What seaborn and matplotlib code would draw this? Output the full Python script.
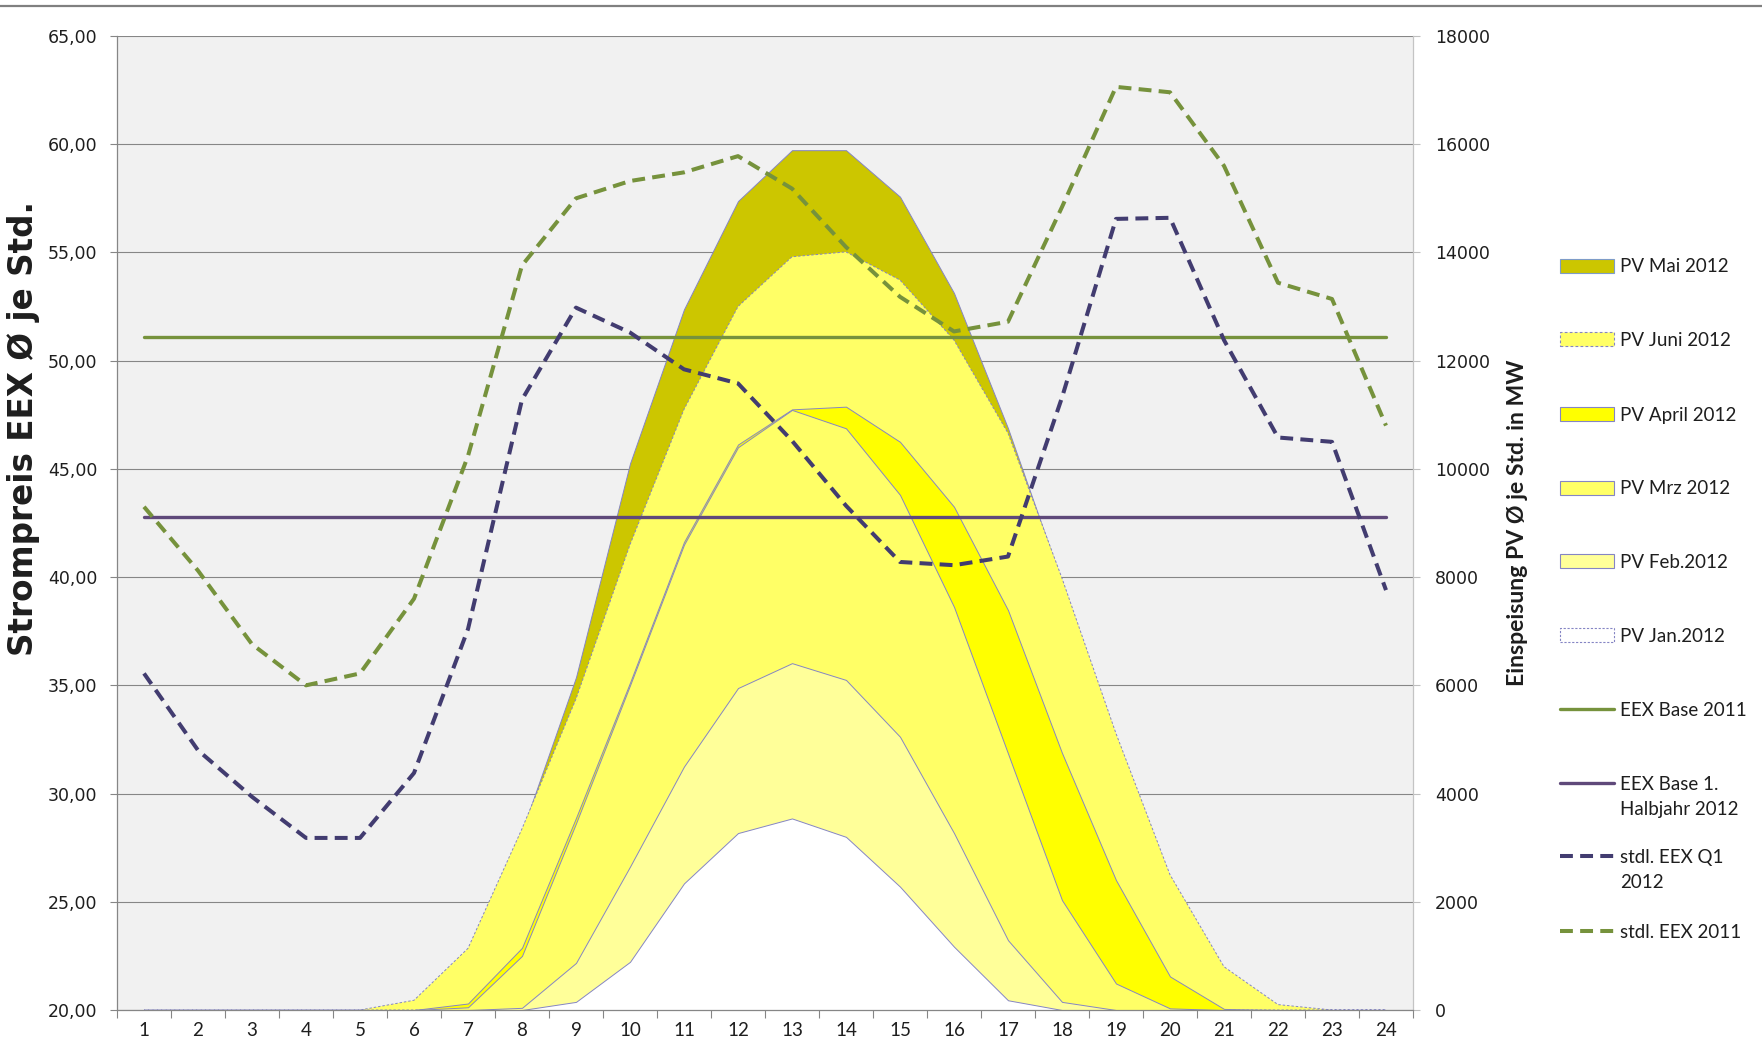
import numpy as np
import pandas as pd
import matplotlib
matplotlib.use("Agg")
import matplotlib.pyplot as plt
import seaborn as sns
from matplotlib.lines import Line2D
from matplotlib.patches import Patch
from matplotlib.ticker import FixedLocator, FuncFormatter

# ---- data -------------------------------------------------------------
hours = list(range(1, 25))

# average PV feed-in per hour of day, MW
pv_mai = [0, 0, 0, 0, 0, 100, 1000, 3300, 6150, 10100, 12950, 14950,
          15890, 15890, 15030, 13250, 10750, 7900, 5000, 2400, 700, 50, 0, 0]
pv_juni = [0, 0, 0, 0, 0, 180, 1140, 3350, 5750, 8600, 11100, 13000,
           13920, 14010, 13490, 12380, 10660, 7980, 5110, 2500, 800, 100, 0, 0]
pv_april = [0, 0, 0, 0, 0, 0, 120, 1150, 3550, 6050, 8650, 10450,
            11100, 11150, 10500, 9300, 7390, 4750, 2400, 620, 20, 0, 0, 0]
pv_mrz = [0, 0, 0, 0, 0, 0, 50, 1000, 3450, 6000, 8600, 10400,
          11090, 10750, 9520, 7450, 4740, 2030, 490, 30, 0, 0, 0, 0]
pv_feb = [0, 0, 0, 0, 0, 0, 0, 40, 870, 2650, 4500, 5950,
          6410, 6100, 5050, 3270, 1290, 150, 0, 0, 0, 0, 0, 0]
pv_jan = [0, 0, 0, 0, 0, 0, 0, 0, 150, 890, 2340, 3270,
          3540, 3200, 2280, 1170, 180, 0, 0, 0, 0, 0, 0, 0]

# hourly EEX prices, EUR/MWh
eex_2011 = [43.25, 40.3, 36.9, 35.0, 35.55, 39.0, 45.6, 54.4, 57.5, 58.3,
            58.7, 59.45, 57.95, 55.25, 52.95, 51.35, 51.8, 57.1, 62.65,
            62.4, 59.0, 53.6, 52.85, 47.0]
eex_q1_2012 = [35.55, 32.0, 29.85, 27.95, 27.95, 30.95, 37.6, 48.2, 52.45,
               51.3, 49.6, 48.95, 46.3, 43.3, 40.7, 40.55, 40.95, 48.3,
               56.55, 56.6, 50.95, 46.45, 46.25, 39.4]
base_2011 = 51.1
base_h1_2012 = 42.8

price_ticks = [20, 25, 30, 35, 40, 45, 50, 55, 60, 65]
pv_ticks = [0, 2000, 4000, 6000, 8000, 10000, 12000, 14000, 16000, 18000]

# ---- styling ----------------------------------------------------------
sns.set_theme(style="white")
plt.rcParams["font.family"] = ["DejaVu Sans"]

W, H = 1762, 1052
fig = plt.figure(figsize=(W / 100, H / 100), dpi=100)
fig.patch.set_facecolor("white")

grid_col = "#868686"
edge_col = "#8585C4"
text_col = "#1e1e1e"
green = "#76923C"
purple = "#5F497A"
navy = "#423C70"

left, right = 117 / W, 1413 / W
bottom, top = 1 - 1010 / H, 1 - 36 / H
ax_pv = fig.add_axes([left, bottom, right - left, top - bottom])
ax_price = ax_pv.twinx()

# ---- PV areas (back layer) -------------------------------------------
areas = [
    ("PV Mai 2012", pv_mai, "#CCC600", "solid"),
    ("PV Juni 2012", pv_juni, "#FFFF66", (0, (2.5, 2))),
    ("PV April 2012", pv_april, "#FFFF00", "solid"),
    ("PV Mrz 2012", pv_mrz, "#FFFF66", "solid"),
    ("PV Feb.2012", pv_feb, "#FFFF99", "solid"),
    ("PV Jan.2012", pv_jan, "#FFFFFF", "solid"),
]
for name, vals, col, ls in areas:
    ax_pv.fill_between(hours, 0, vals, facecolor=col, edgecolor=edge_col,
                       linewidth=0.7, linestyle=ls, zorder=2)

ax_pv.set_facecolor("#F1F1F1")
ax_pv.set_xlim(0.5, 24.5)
ax_pv.set_ylim(0, 18000)
ax_pv.yaxis.set_major_locator(FixedLocator(pv_ticks))
ax_pv.yaxis.set_major_formatter(FuncFormatter(lambda v, p: f"{int(v)}"))
ax_pv.yaxis.tick_right()
ax_pv.yaxis.set_label_position("right")
ax_pv.grid(axis="y", color=grid_col, linewidth=0.8, zorder=1)
ax_pv.set_axisbelow(True)
ax_pv.set_ylabel("Einspeisung PV Ø je Std. in MW", family=["Lato", "DejaVu Sans"],
                 fontweight="bold", fontsize=16.6, color=text_col, labelpad=12)
ax_pv.tick_params(axis="y", which="major", right=True, length=5, width=0.8,
                  color="#BFBFBF", pad=11, labelsize=12.5, labelcolor=text_col)

# hour axis: labels at category centres, tick marks between them
ax_pv.xaxis.set_major_locator(FixedLocator(hours))
ax_pv.xaxis.set_minor_locator(FixedLocator(np.arange(0.5, 25, 1.0)))
ax_pv.set_xticklabels([str(h) for h in hours], family=["Lato", "DejaVu Sans"],
                      fontsize=13.5, color=text_col)
ax_pv.tick_params(axis="x", which="major", length=0, pad=9)
ax_pv.tick_params(axis="x", which="minor", bottom=True, length=6, width=0.8,
                  color=grid_col)
for s in ax_pv.spines.values():
    s.set_visible(False)

# ---- price lines (front layer) ---------------------------------------
df = pd.DataFrame({
    "Stunde": hours,
    "base_2011": [base_2011] * len(hours),
    "base_h1_2012": [base_h1_2012] * len(hours),
    "eex_q1_2012": eex_q1_2012,
    "eex_2011": eex_2011,
})
sns.lineplot(data=df, x="Stunde", y="base_2011", ax=ax_price, color=green,
             linewidth=2.4, legend=False)
sns.lineplot(data=df, x="Stunde", y="base_h1_2012", ax=ax_price, color=purple,
             linewidth=2.4, legend=False)
sns.lineplot(data=df, x="Stunde", y="eex_q1_2012", ax=ax_price, color=navy,
             linewidth=2.9, linestyle=(0, (3.2, 1.8)), legend=False)
sns.lineplot(data=df, x="Stunde", y="eex_2011", ax=ax_price, color=green,
             linewidth=2.9, linestyle=(0, (3.2, 1.8)), legend=False)

ax_price.set_xlim(0.5, 24.5)
ax_price.set_ylim(20, 65)
ax_price.yaxis.set_major_locator(FixedLocator(price_ticks))
ax_price.yaxis.set_major_formatter(
    FuncFormatter(lambda v, p: f"{v:.2f}".replace(".", ",")))
ax_price.yaxis.tick_left()
ax_price.yaxis.set_label_position("left")
ax_price.set_xlabel("")
ax_price.set_ylabel("Strompreis EEX Ø je Std.", family=["DejaVu Sans"],
                    fontweight="bold", fontsize=23.5, color=text_col)
ax_price.yaxis.set_label_coords(-0.0594, 0.5975)
ax_price.tick_params(axis="y", which="major", left=True, right=False, length=5,
                     width=0.8, color=grid_col, pad=9, labelsize=12.5,
                     labelcolor=text_col)
ax_price.spines["top"].set_visible(False)
ax_price.spines["left"].set_color(grid_col)
ax_price.spines["left"].set_linewidth(0.9)
ax_price.spines["right"].set_color("#C4C4C4")
ax_price.spines["right"].set_linewidth(0.9)
ax_price.spines["bottom"].set_color(grid_col)
ax_price.spines["bottom"].set_linewidth(0.9)

# ---- legend, one entry per row ---------------------------------------
fs = 13.5
fs_px = fs * 100 / 72
handle_len = 54 / fs_px
leg_x = 1560 / W
rows = [
    (Patch(facecolor="#CCC600", edgecolor="#7E9CC8", linewidth=0.8), "PV Mai 2012", 267, None),
    (Patch(facecolor="#FFFF66", edgecolor=edge_col, linewidth=0.8, linestyle=(0, (2.5, 2))),
     "PV Juni 2012", 340, None),
    (Patch(facecolor="#FFFF00", edgecolor=edge_col, linewidth=0.8), "PV April 2012", 415, None),
    (Patch(facecolor="#FFFF66", edgecolor=edge_col, linewidth=0.8), "PV Mrz 2012", 489, None),
    (Patch(facecolor="#FFFF99", edgecolor=edge_col, linewidth=0.8), "PV Feb.2012", 562, None),
    (Patch(facecolor="#FFFFFF", edgecolor=edge_col, linewidth=0.8, linestyle=(0, (2, 1.5))),
     "PV Jan.2012", 636, None),
    (Line2D([], [], color=green, linewidth=2.4), "EEX Base 2011", 710, None),
    (Line2D([], [], color=purple, linewidth=2.4), "EEX Base 1.", 784, "Halbjahr 2012"),
    (Line2D([], [], color=navy, linewidth=2.9, linestyle=(0, (3.2, 1.8))),
     "stdl. EEX Q1", 857, "2012"),
    (Line2D([], [], color=green, linewidth=2.9, linestyle=(0, (3.2, 1.8))),
     "stdl. EEX 2011", 932, None),
]
prop = {"family": ["Lato", "DejaVu Sans"], "size": fs}
for handle, label, ypx, extra in rows:
    fig.legend(handles=[handle], labels=[label], loc="center left",
               bbox_to_anchor=(leg_x, 1 - ypx / H), frameon=False, prop=prop,
               handlelength=handle_len, handleheight=0.8,
               handletextpad=6 / fs_px, borderpad=0, borderaxespad=0,
               labelcolor=text_col)
    if extra:
        fig.text((1560 + 54 + 6) / W, 1 - (ypx + 25) / H, extra,
                 family=["Lato", "DejaVu Sans"], fontsize=fs, color=text_col,
                 va="center", ha="left")

# frame line across the top of the chart
fig.add_artist(Line2D([0, 1], [1 - 6 / H, 1 - 6 / H], transform=fig.transFigure,
                      color="#808080", linewidth=1.6))

fig.savefig("out.png", dpi=100, facecolor="white")
